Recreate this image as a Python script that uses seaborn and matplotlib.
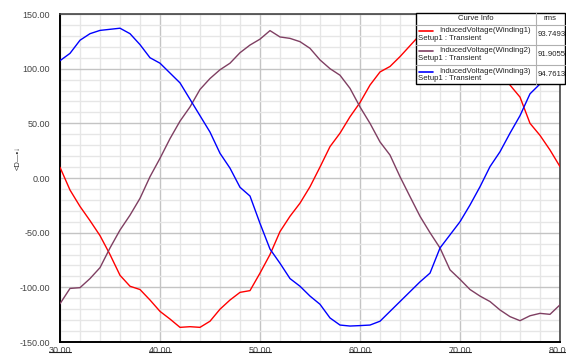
import numpy as np
import pandas as pd
import seaborn as sns
import matplotlib
matplotlib.use("Agg")
import matplotlib.pyplot as plt
from matplotlib.patches import Rectangle
from matplotlib.lines import Line2D
from matplotlib.ticker import MultipleLocator

# ---- data (time in ms, induced voltage) ----
time_ms = list(range(30, 81))
winding1 = [9.8, -11, -26, -39, -52.7, -70, -89, -99, -102, -111.6, -122, -129, -136.6,
            -136, -136.6, -131, -120, -111.6, -104.6, -103, -87, -70, -49, -35, -23,
            -8, 10, 28.7, 41, 56, 69, 85, 97, 102, 111, 121, 131, 135, 137, 136,
            137, 132, 122, 110, 97, 85, 74, 50, 39, 25.6, 10.4]
winding2 = [-115, -101, -100.3, -92, -82, -64, -47.6, -34, -18.6, 1.2, 18, 36, 52,
            65, 81, 91, 99, 105, 114.6, 121.6, 127, 134.8, 129, 127.7, 124.7, 118.6,
            108, 100, 94, 82, 65, 50, 33, 21, 1.2, -17, -35, -50, -64, -84, -92.7,
            -102, -108, -113, -120.7, -126.8, -130.5, -126, -123.8, -124.7, -116]
winding3 = [107.3, 114, 126, 132, 135, 136, 137, 132, 122, 110, 105, 96, 87,
            72, 57, 42, 22.6, 9, -8.5, -16.5, -41.5, -65, -78, -92, -99, -108,
            -115.5, -128, -134.5, -135.4, -135, -134.5, -131, -122, -113, -104, -95,
            -87, -64, -52, -40, -24.7, -8, 10.4, 24, 41, 57, 77, 86, 96, 105]

series_names = ["InducedVoltage(Winding1)", "InducedVoltage(Winding2)", "InducedVoltage(Winding3)"]
rms_values = ["93.7493", "91.9055", "94.7613"]
colors = ["#ff0000", "#7f3f62", "#0000ff"]
x_ticks = [30, 40, 50, 60, 70, 80]
y_ticks = [-150, -100, -50, 0, 50, 100, 150]

df = pd.DataFrame({
    "time": time_ms * 3,
    "value": winding1 + winding2 + winding3,
    "curve": [series_names[0]] * len(time_ms) + [series_names[1]] * len(time_ms) + [series_names[2]] * len(time_ms),
})

sns.set_style("white")
plt.rcParams['font.family'] = ['Liberation Sans', 'DejaVu Sans']

W, H = 566, 356
fig = plt.figure(figsize=(W / 100, H / 100), dpi=100)
ax = fig.add_axes([60 / W, 1 - 342 / H, 500 / W, 328 / H])

sns.lineplot(data=df, x="time", y="value", hue="curve", palette=colors,
             linewidth=1.0, ax=ax, legend=False, zorder=3)

ax.set_xlim(30, 80)
ax.set_ylim(-150, 150)
ax.xaxis.set_minor_locator(MultipleLocator(2))
ax.yaxis.set_minor_locator(MultipleLocator(10))
ax.set_xticks(x_ticks)
ax.set_yticks(y_ticks)
ax.set_xticklabels(["%.2f" % v for v in x_ticks])
ax.set_yticklabels(["%.2f" % v for v in y_ticks])
ax.grid(which="major", color="#c4c4c4", linewidth=1.0, zorder=1)
ax.grid(which="minor", color="#e6e6e6", linewidth=1.0, zorder=0)
ax.set_axisbelow(True)
ax.tick_params(axis="both", which="major", direction="out", length=5, width=1,
               labelsize=6.5, labelcolor="#444444", color="black", pad=2)
ax.tick_params(axis="both", which="minor", direction="out", length=3, width=1, color="black")
ax.tick_params(axis="x", which="major", length=0, pad=3)
ax.set_xlabel("")
ax.set_ylabel("")
for side in ["left", "bottom"]:
    ax.spines[side].set_color("black")
    ax.spines[side].set_linewidth(1.4)
for side in ["top", "right"]:
    ax.spines[side].set_color("#444444")
    ax.spines[side].set_linewidth(1.2)

# underline the x tick labels
xt = ax.get_xaxis_transform()
for v in x_ticks:
    ax.add_line(Line2D([v - 1.1, v + 1.1], [-0.0315, -0.0315], transform=xt, color="#222222",
                       linewidth=0.8, clip_on=False))

# y axis label glyph (rotated)
fig.text(18 / W, 1 - 158 / H, "<D\u2014\u2022\u2193", rotation=90, fontsize=5.5,
         color="#333333", ha="center", va="center")

# ---- curve info table ----
def fx(px):
    return px / W

def fy(py):
    return 1 - py / H

left, right, colsep = 415.5, 565, 535.5
rows = [12.5, 24.5, 44.5, 65, 84]
fig.add_artist(Rectangle((fx(left), fy(rows[-1])), fx(right) - fx(left), fy(rows[0]) - fy(rows[-1]),
                         transform=fig.transFigure, facecolor="white", edgecolor="black",
                         linewidth=1.0, zorder=5))
for r in rows[1:-1]:
    fig.add_artist(Line2D([fx(left), fx(right)], [fy(r), fy(r)], transform=fig.transFigure,
                          color="#b0b0b0", linewidth=0.8, zorder=6))
fig.add_artist(Line2D([fx(colsep), fx(colsep)], [fy(rows[0]), fy(rows[-1])], transform=fig.transFigure,
                      color="#b0b0b0", linewidth=0.8, zorder=6))
fs = 5.6
fig.text(fx((left + colsep) / 2), fy((rows[0] + rows[1]) / 2), "Curve Info", fontsize=fs,
         ha="center", va="center", color="#222222", zorder=7)
fig.text(fx((colsep + right) / 2), fy((rows[0] + rows[1]) / 2), "rms", fontsize=fs,
         ha="center", va="center", color="#222222", zorder=7)
for i in range(3):
    top, bot = rows[i + 1], rows[i + 2]
    yl = top + 6.5
    fig.add_artist(Line2D([fx(419), fx(433)], [fy(yl), fy(yl)], transform=fig.transFigure,
                          color=colors[i], linewidth=1.2, zorder=7))
    fig.text(fx(439), fy(yl), series_names[i], fontsize=fs, ha="left", va="center",
             color="#222222", zorder=7)
    fig.text(fx(418), fy(top + 14), "Setup1 : Transient", fontsize=fs, ha="left", va="center",
             color="#222222", zorder=7)
    fig.text(fx(colsep + 2), fy((top + bot) / 2), rms_values[i], fontsize=fs, ha="left",
             va="center", color="#222222", zorder=7)

fig.savefig("out.png", dpi=100)
